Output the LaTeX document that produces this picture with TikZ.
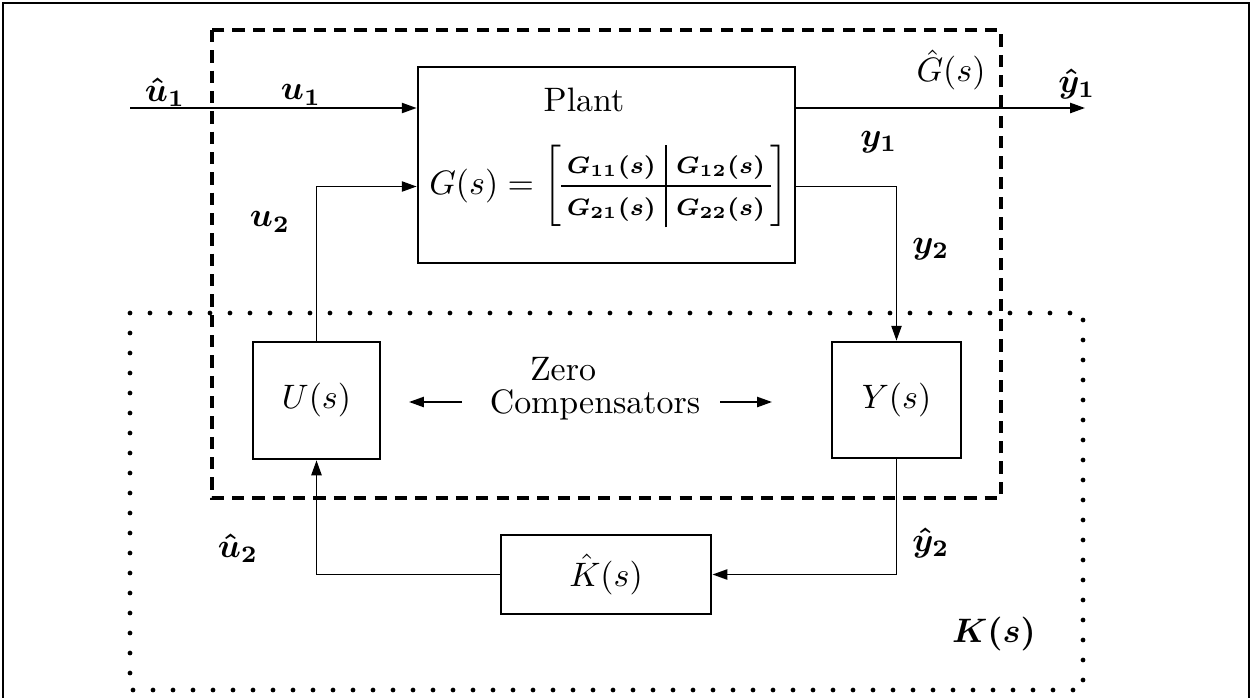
\documentclass[tikz,border=0pt]{standalone}
\usepackage{amsmath}
\usepackage{tikz}
\usetikzlibrary{
  arrows.meta,
  positioning
}
\newcommand{\gEntry}[1]{\text{\boldmath\scriptsize$G_{#1}(s)$}}
\tikzset{
  blkBox/.style={
    draw,
    line width=0.8pt,
    inner sep=0pt,
    align=center
  },
  sigLine/.style={
    line width=0.55pt
  },
  sigArrow/.style={
    -{Triangle[length=4.4pt,width=3pt]},
    line width=0.55pt
  },
  gFrame/.style={
    line width=1pt,
    dash pattern=on 3.6pt off 2.4pt
  },
  kFrame/.style={
    line width=1.4pt,
    line cap=round,
    dash pattern=on 0pt off 5.9pt
  },
  txtNode/.style={
    inner sep=0pt
  },
  sigLabel/.style={
    inner sep=0pt,
    font=\boldmath
  }
}

\begin{document}
\begin{tikzpicture}[x=0.295pt, y=-0.295pt]
  \useasboundingbox (0,0) rectangle (1257,698);

  % page frame
  \draw[line width=0.3pt] (3,698) -- (3,3) -- (1249,3) -- (1249,698);

  % blocks
  \node[blkBox, minimum width=111.2pt, minimum height=57.8pt]
    (plant) at (606.5,165) {};
  \node[txtNode] (plantTxt) at (584,100) {Plant};
  \node[txtNode] (gMat) at (609,186)
    {$\arraycolsep=3pt G(s)=\left[\begin{array}{@{\,}c|c@{\,}}
      \gEntry{11} & \gEntry{12}\\ \hline
      \gEntry{21} & \gEntry{22}
    \end{array}\right]$};

  \node[blkBox, minimum width=37.5pt, minimum height=34.5pt]
    (ucomp) at (316.5,400.5) {$U(s)$};
  \node[blkBox, minimum width=38pt, minimum height=34.2pt]
    (ycomp) at (896.5,400) {$Y(s)$};
  \node[blkBox, minimum width=62pt, minimum height=23.3pt]
    (khat) at (606,574.5) {$\hat{K}(s)$};

  \node[txtNode, anchor=base] (zeroTxt) at (563,380) {Zero};
  \node[txtNode, anchor=base] (compTxt) at (595,413) {Compensators};

  % frames
  \draw[gFrame] (212,30) rectangle (1001,498);
  \draw[kFrame] (130,313) rectangle (1083,690);

  % signals
  \coordinate (in1) at (130,108);
  \coordinate (out1) at (1085,108);
  \coordinate (rail2) at (0,186.5);
  \draw[sigArrow] (in1) -- (in1 -| plant.west);
  \draw[sigArrow] (in1 -| plant.east) -- (out1);
  \draw[sigArrow] (ucomp.north) |- (plant.west |- rail2);
  \draw[sigArrow] (plant.east |- rail2) -| (ycomp.north);
  \draw[sigArrow] (ycomp.south) |- (khat.east);
  \draw[sigArrow] (khat.west) -| (ucomp.south);

  \coordinate (zlA) at (462,402);
  \coordinate (zlB) at (409,402);
  \coordinate (zrA) at (720,402);
  \coordinate (zrB) at (772,402);
  \draw[sigArrow] (zlA) -- (zlB);
  \draw[sigArrow] (zrA) -- (zrB);

  % labels
  \node[sigLabel] (u1hat) at (165,92) {$\hat{u}_1$};
  \node[sigLabel] (u1lab) at (301,95) {$u_1$};
  \node[sigLabel] (u2lab) at (270,222) {$u_2$};
  \node[txtNode] (ghatlab) at (951,70) {$\hat{G}(s)$};
  \node[sigLabel] (y1hat) at (1077,84) {$\hat{y}_1$};
  \node[sigLabel] (y1lab) at (879,142) {$y_1$};
  \node[sigLabel] (y2lab) at (931,249) {$y_2$};
  \node[sigLabel] (u2hat) at (238,548) {$\hat{u}_2$};
  \node[sigLabel] (y2hat) at (931,543) {$\hat{y}_2$};
  \node[sigLabel] (klab) at (994,634) {$K(s)$};
\end{tikzpicture}
\end{document}
